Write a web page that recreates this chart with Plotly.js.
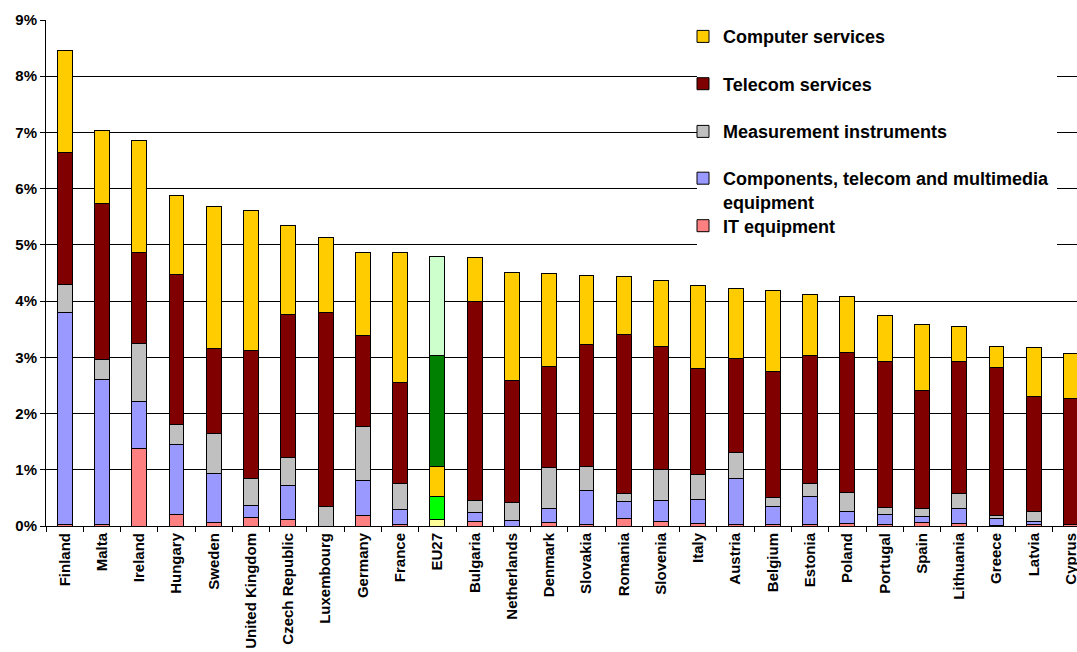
<!DOCTYPE html>
<html>
<head>
<meta charset="utf-8">
<script src="https://cdn.plot.ly/plotly-3.0.1.min.js"></script>
<style>html,body{margin:0;padding:0;background:#fff;}#chart{width:1077px;height:652px;}</style>
</head>
<body>
<div id="chart"></div>
<script>
const countries = ['Finland','Malta','Ireland','Hungary','Sweden','United Kingdom','Czech Republic','Luxembourg','Germany','France','EU27','Bulgaria','Netherlands','Denmark','Slovakia','Romania','Slovenia','Italy','Austria','Belgium','Estonia','Poland','Portugal','Spain','Lithuania','Greece','Latvia','Cyprus'];

// shares of value added, in %
const itEquipment = [0.02,0.03,1.37,0.20,0.07,0.16,0.11,0.00,0.18,0.03,0.11,0.08,0.00,0.06,0.02,0.13,0.08,0.05,0.02,0.03,0.02,0.05,0.02,0.06,0.05,0.01,0.02,0.02];
const components  = [3.77,2.58,0.84,1.25,0.87,0.20,0.61,0.00,0.63,0.27,0.41,0.16,0.10,0.25,0.62,0.30,0.37,0.42,0.83,0.31,0.50,0.21,0.18,0.11,0.27,0.12,0.06,0.01];
const measurement = [0.51,0.35,1.03,0.36,0.70,0.48,0.49,0.35,0.96,0.45,0.53,0.21,0.32,0.73,0.41,0.15,0.55,0.45,0.46,0.17,0.24,0.34,0.13,0.15,0.25,0.06,0.17,0.00];
const telecom     = [2.35,2.77,1.62,2.66,1.51,2.29,2.55,3.45,1.61,1.81,1.98,3.55,2.16,1.79,2.18,2.83,2.19,1.89,1.67,2.23,2.28,2.48,2.59,2.09,2.35,2.63,2.05,2.23];
const computer    = [1.81,1.30,1.99,1.41,2.53,2.49,1.58,1.33,1.49,2.31,1.77,0.78,1.93,1.67,1.22,1.03,1.17,1.46,1.24,1.44,1.08,1.00,0.82,1.18,0.63,0.37,0.88,0.81];

const seriesNames = ['IT equipment','Components, telecom and multimedia<br>equipment','Measurement instruments','Telecom services','Computer services'];
const seriesValues = [itEquipment, components, measurement, telecom, computer];
const baseColors = ['#FF8080','#9999FF','#C0C0C0','#800000','#FFCC00'];
const euColors   = ['#FFFF99','#00FF00','#FFCC00','#008000','#CCFFCC'];
const highlight = 'EU27';

const FONT = '"Liberation Sans", Arial, sans-serif';
const legendKeys = ['legend5','legend4','legend3','legend2','legend'];
// legend centre positions in px (y), converted to paper
const plotTop = 20, plotBottom = 526, plotLeft = 46, plotRight = 1077;
const legendYpx = [226, 190, 131.7, 84, 36.7];
const legendXpx = 683;
const toPx = v => (plotBottom - v) / (plotBottom - plotTop);
const toPxX = v => (v - plotLeft) / (plotRight - plotLeft);

const traces = seriesValues.map((vals, i) => ({
  type: 'bar',
  x: countries,
  y: vals,
  name: seriesNames[i],
  legend: legendKeys[i],
  marker: {
    color: countries.map(c => c === highlight ? euColors[i] : baseColors[i]),
    line: {color: '#000', width: 1}
  },
  hoverinfo: 'none'
}));

const layout = {
  width: 1077, height: 652,
  margin: {l: plotLeft, r: 0, t: plotTop, b: 652 - plotBottom},
  barmode: 'stack',
  bargap: 0.6,
  paper_bgcolor: '#fff',
  plot_bgcolor: '#fff',
  hovermode: false,
  font: {family: FONT, color: '#000', weight: 'bold'},
  xaxis: {
    type: 'category',
    range: [-0.5, 27.16],
    tickangle: -90,
    tickfont: {family: FONT, size: 15, color: '#000', weight: 'bold'},
    showline: true, linecolor: '#000', linewidth: 1,
    ticks: 'outside', ticklen: 5, tickcolor: '#000',
    tickson: 'boundaries',
    showgrid: false,
    fixedrange: true
  },
  yaxis: {
    range: [0, 9],
    dtick: 1,
    ticksuffix: '%',
    tickfont: {family: FONT, size: 15, color: '#000', weight: 'bold'},
    showline: true, linecolor: '#000', linewidth: 1,
    ticks: 'outside', ticklen: 5, tickcolor: '#000',
    showgrid: true, gridcolor: '#000', gridwidth: 1,
    zeroline: false,
    fixedrange: true
  },
  shapes: [{
    type: 'rect', xref: 'paper', yref: 'paper', layer: 'above',
    x0: toPxX(697), x1: toPxX(1057), y0: toPx(250), y1: toPx(21),
    fillcolor: '#fff', line: {width: 0}
  }]
};

legendKeys.forEach((k, i) => {
  layout[k] = {
    x: toPxX(legendXpx), xanchor: 'left',
    y: toPx(legendYpx[i]), yanchor: 'middle',
    bgcolor: 'rgba(0,0,0,0)', borderwidth: 0,
    valign: 'top',
    font: {family: FONT, size: 18, color: '#000', weight: 'bold'}
  };
});
traces.forEach(t => t.showlegend = true);

Plotly.newPlot('chart', traces, layout, {displayModeBar: false, staticPlot: true});
</script>
</body>
</html>
